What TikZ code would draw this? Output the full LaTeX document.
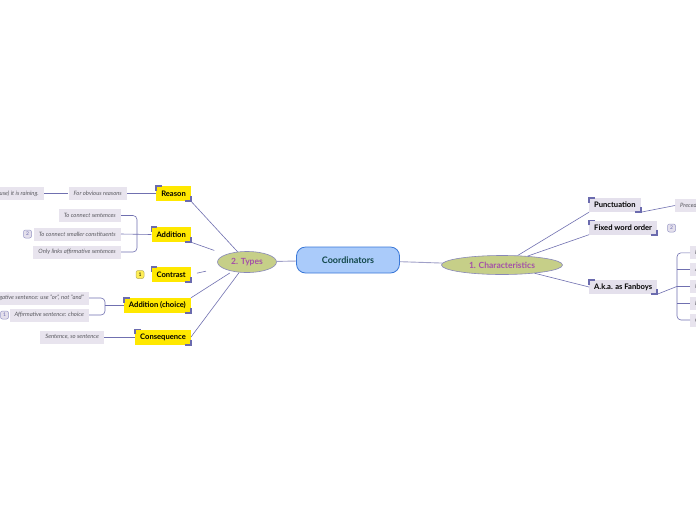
\documentclass[tikz,border=0pt]{standalone}
\usepackage{fontspec}
\setmainfont{Lato}
\usetikzlibrary{shapes.geometric, positioning}
\definecolor{centralfill}{RGB}{170,203,250}
\definecolor{centraledge}{RGB}{58,120,216}
\definecolor{centraltext}{RGB}{16,70,72}
\definecolor{topicfill}{RGB}{198,207,136}
\definecolor{topicedge}{RGB}{136,136,184}
\definecolor{topictext}{RGB}{164,80,168}
\definecolor{subyellow}{RGB}{255,232,0}
\definecolor{sublav}{RGB}{228,224,236}
\definecolor{leaffill}{RGB}{232,228,238}
\definecolor{leaftext}{RGB}{90,90,96}
\definecolor{cornerpurple}{RGB}{107,107,174}
\definecolor{branchline}{RGB}{112,112,176}
\definecolor{trunkline}{RGB}{160,160,200}

\tikzset{
  central/.style={draw=centraledge, fill=centralfill, rounded corners=9pt, line width=0.8pt,
    minimum width=103, minimum height=26, text=centraltext, font=\bfseries\fontsize{9}{10}\selectfont},
  maintopic/.style={ellipse, draw=topicedge, fill=topicfill, line width=0.6pt, inner sep=0pt,
    text=topictext, font=\bfseries\fontsize{8.5}{9}\selectfont},
  yellowbox/.style={fill=subyellow, minimum height=15, inner xsep=5pt, inner ysep=1pt,
    font=\bfseries\fontsize{7.6}{8}\selectfont},
  lavbox/.style={fill=sublav, minimum height=14, inner xsep=5pt, inner ysep=1pt,
    font=\bfseries\fontsize{7.6}{8}\selectfont},
  leaf/.style={fill=leaffill, minimum height=13, inner xsep=5pt, inner ysep=1pt, text=leaftext,
    font=\itshape\fontsize{5.9}{6}\selectfont},
  badge/.style={rounded corners=2pt, minimum size=8, inner sep=0.5pt, line width=0.5pt,
    font=\fontsize{5}{6}\selectfont},
  corner/.style={draw=cornerpurple, line width=1.6pt},
  branch/.style={draw=branchline, line width=0.6pt},
  trunk/.style={draw=trunkline, line width=0.9pt},
}

\begin{document}
\begin{tikzpicture}[x=1pt, y=-1pt]
\path[use as bounding box, fill=white] (0,0) rectangle (696,520);

% centre and main topics
\node[central] (coord) at (348,260) {Coordinators};
\node[maintopic, minimum width=59, minimum height=21] (types) at (247,262) {2. Types};
\node[maintopic, minimum width=121, minimum height=19] (chars) at (502,265) {1. Characteristics};

\draw[trunk] (types) -- (coord);
\draw[trunk] (coord) -- (chars);

% types
\node[yellowbox, anchor=east] (reason) at (191,193.5) {Reason};
\node[yellowbox, anchor=east] (addition) at (191,234.5) {Addition};
\node[yellowbox, anchor=east] (contrast) at (191,274.5) {Contrast};
\node[yellowbox, anchor=east] (addchoice) at (191,305.5) {Addition (choice)};
\node[yellowbox, anchor=east] (conseq) at (191,337) {Consequence};

\node[badge, draw={rgb,255:red,184;green,176;blue,96}, fill={rgb,255:red,255;green,238;blue,85}] (badgeone) at (140,274.5) {1};

\node[leaf, anchor=east] (obvious) at (127,193.5) {For obvious reasons};
\node[leaf, anchor=east] (raining) at (44,193.5) {(because) it is raining.};

\node[leaf, anchor=east] (sentences) at (121,215.5) {To connect sentences};
\node[leaf, anchor=east] (smaller) at (121,234) {To connect smaller constituents};
\node[leaf, anchor=east] (onlyaff) at (121,252) {Only links affirmative sentences};
\node[badge, draw=cornerpurple!70, fill=sublav, text=cornerpurple] (badgetwo) at (27.5,234) {2};

\node[leaf, anchor=east] (negative) at (89,298) {Negative sentence: use "or", not "and"};
\node[leaf, anchor=east] (choice) at (89,315) {Affirmative sentence: choice};
\node[badge, draw=cornerpurple!70, fill=sublav, text=cornerpurple] (badgethree) at (4.5,315) {1};

\node[leaf, anchor=east] (sosentence) at (104,337) {Sentence, so sentence};

\draw[branch] (reason.south east) -- (types);
\draw[branch, shorten >=12pt] (addition.south east) -- (types);
\draw[branch, shorten <=6pt, shorten >=16pt] (contrast.east) -- (types);
\draw[branch, shorten >=3pt] (addchoice.north east) -- (types);
\draw[branch] (conseq.east) -- (types);

\draw[branch] (raining) -- (obvious);
\draw[branch] (obvious) -- (reason);
\draw[branch, rounded corners=4pt] (sentences.east) -- ++(16,0) |- (onlyaff.east);
\draw[branch] (smaller.east) -- (addition.west);
\draw[branch, rounded corners=4pt] (negative.east) -- ++(16,0) |- (choice.east);
\draw[branch] ([xshift=16pt]negative.east |- addchoice.west) -- (addchoice.west);
\draw[branch] (sosentence) -- (conseq);

% characteristics
\node[lavbox, anchor=west] (punct) at (589,205) {Punctuation};
\node[lavbox, anchor=west] (wordorder) at (589,227.5) {Fixed word order};
\node[lavbox, anchor=west] (fanboys) at (589,287) {A.k.a. as Fanboys};
\node[badge, draw=cornerpurple!70, fill=sublav, text=cornerpurple] (badgefour) at (671.5,228) {2};

\node[leaf, anchor=west] (preceded) at (675,205.5) {Preceded by a comma};
\foreach \w [count=\i] in {For, And, Nor, But, Or}
  \node[leaf, anchor=west] (fan\i) at (690,236+16.8*\i) {\w};

\draw[branch] (chars) -- (punct.south west);
\draw[branch] (chars) -- (wordorder.south west);
\draw[branch] (chars) -- (fanboys.west);
\draw[branch] (punct.south east) -- (preceded.west);
\draw[branch, rounded corners=4pt] (fan1.west) -- ++(-13,0) |- (fan5.west);
\foreach \i in {2,3,4}
  \draw[branch] ([xshift=-13pt]fan\i.west) -- (fan\i.west);
\draw[branch] (fanboys.south east) -- ([xshift=-13pt]fan3.west);

% corner marks
\foreach \n in {reason, addition, contrast, addchoice, conseq, punct, wordorder, fanboys} {
  \draw[corner] ([yshift=-5pt]\n.north west) -- (\n.north west) -- ([xshift=6pt]\n.north west);
  \draw[corner] ([yshift=5pt]\n.south east) -- (\n.south east) -- ([xshift=-6pt]\n.south east);
}
\end{tikzpicture}
\end{document}
